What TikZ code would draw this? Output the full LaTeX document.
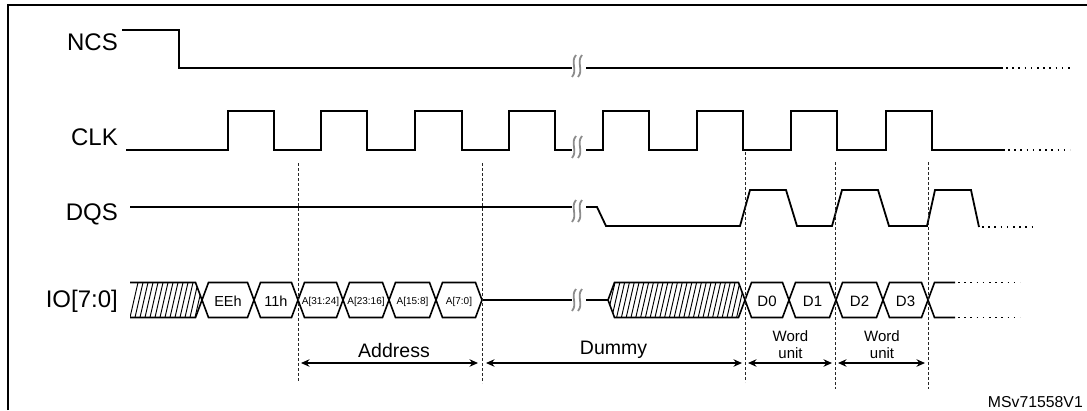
\documentclass[tikz,border=0pt]{standalone}
\usepackage{fontspec}
\setmainfont{Liberation Sans}
\usetikzlibrary{arrows.meta}
\newcommand{\brkmark}[2]{%
  \draw[brk] (#1+2,#2-11) .. controls (#1-4,#2-4) and (#1+4,#2+4) .. (#1-2,#2+11);
  \draw[brk] (#1+8,#2-11) .. controls (#1+2,#2-4) and (#1+10,#2+4) .. (#1+4,#2+11);}
\newcommand{\busseg}[2]{%
  \draw[bus] (#1,300) -- (#1+6.5,282.5) -- (#2-6.5,282.5) -- (#2,300) -- (#2-6.5,317.5) -- (#1+6.5,317.5) -- cycle;}
\begin{document}
\begin{tikzpicture}[x=1pt,y=-1pt,
  sig/.style={line width=1.8pt, line join=miter},
  bus/.style={line width=1.6pt, line join=miter},
  contd/.style={line width=1.8pt, dash pattern=on 1.6pt off 4.6pt},
  guide/.style={line width=0.9pt, dash pattern=on 3pt off 2pt, black!85},
  brk/.style={line width=1.8pt, black!45},
  hatch/.style={line width=0.95pt},
  dim/.style={line width=1.3pt, {Stealth[length=8.5pt,width=7.5pt]}-{Stealth[length=8.5pt,width=7.5pt]}},
  siglbl/.style={font=\fontsize{24}{28}\selectfont, anchor=base east, inner sep=0pt},
  buslbl/.style={font=\fontsize{14.5}{17}\selectfont, anchor=base, inner sep=0pt},
  addrlbl/.style={font=\fontsize{10}{12}\selectfont, anchor=base, inner sep=0pt},
  datalbl/.style={font=\fontsize{15}{18}\selectfont, anchor=base, inner sep=0pt},
  spanlbl/.style={font=\fontsize{19.5}{23}\selectfont, anchor=base, inner sep=0pt}
]
\fill[white] (0,0) rectangle (1087,410);
\useasboundingbox (0,0) rectangle (1087,410);

% frame
\draw[line width=1.8pt] (8,410) -- (8,5) -- (1087,5);

% labels
\node[siglbl] (ncs) at (118,50) {NCS};
\node[siglbl] (clk) at (118,145) {CLK};
\node[siglbl] (dqs) at (118,220) {DQS};
\node[siglbl] (io) at (118,307) {IO[7:0]};

% NCS
\draw[sig] (122,30) -- (179,30) -- (179,68) -- (572,68);
\draw[sig] (586,68) -- (1003,68);
\draw[contd] (1006,68) -- (1070,68);
\brkmark{574}{66}

% CLK
\draw[sig] (126,150) -| (228,111) -| (274,150) -| (321,111) -| (367,150) -| (415,111) -| (462,150) -| (509,111) -| (555,150) -- (572,150);
\draw[sig] (586,150) -| (603,111) -| (649,150) -| (697,111) -| (743,150) -| (791,111) -| (837,150) -| (886,111) -| (932,150) -- (1005,150);
\draw[contd] (1008,150) -- (1070,150);
\brkmark{574}{147}

% DQS
\draw[sig] (130,207) -- (572,207);
\draw[sig] (586,207) -- (597,207) -- (606,226) -- (740,226) -- (750,190) -- (786,190) -- (797,226) -- (832,226) -- (842,190) -- (878,190) -- (889,226) -- (927,226) -- (935,190) -- (971,190) -- (979,227);
\draw[contd] (982,227) -- (1032,227);
\brkmark{574}{211}

% IO bus: leading hatched region
\begin{scope}
  \clip (130,282.5) -- (195.5,282.5) -- (202,300) -- (195.5,317.5) -- (130,317.5) -- cycle;
  \foreach \x in {130,135,...,202} \draw[hatch] (\x,317.5) -- (\x+8,282.5);
\end{scope}
\draw[bus] (130,282.5) -- (195.5,282.5) -- (202,300) -- (195.5,317.5) -- (130,317.5);

\busseg{202}{254}
\busseg{254}{298}
\busseg{298}{343}
\busseg{343}{389}
\busseg{389}{436}
\busseg{436}{482}
\node[buslbl] (eeh) at (228,306) {EEh};
\node[buslbl] (b11h) at (276,306) {11h};
\node[addrlbl] (a3124) at (320.5,304) {A[31:24]};
\node[addrlbl] (a2316) at (366,304) {A[23:16]};
\node[addrlbl] (a158) at (412.5,304) {A[15:8]};
\node[addrlbl] (a70) at (459,304) {A[7:0]};

\draw[bus] (482,300) -- (572,300);
\draw[bus] (586,300) -- (608,300);
\brkmark{574}{300}

% dummy hatched region
\begin{scope}
  \clip (608,300) -- (614.5,282.5) -- (738.5,282.5) -- (745,300) -- (738.5,317.5) -- (614.5,317.5) -- cycle;
  \foreach \x in {607,611.8,...,746} \draw[hatch] (\x,317.5) -- (\x+8,282.5);
\end{scope}
\busseg{608}{745}

\busseg{745}{789}
\busseg{789}{836}
\busseg{836}{883}
\busseg{883}{928}
\node[datalbl] (d0) at (767,306.5) {D0};
\node[datalbl] (d1) at (812.5,306.5) {D1};
\node[datalbl] (d2) at (859.5,306.5) {D2};
\node[datalbl] (d3) at (905.5,306.5) {D3};
\draw[bus] (928,300) -- (934.5,282.5) -- (955,282.5);
\draw[bus] (928,300) -- (934.5,317.5) -- (955,317.5);
\draw[contd] (958,282.5) -- (1020,282.5);
\draw[contd] (958,317.5) -- (1020,317.5);

% guides
\coordinate (g1t) at (298,163); \coordinate (g1b) at (298,382);
\coordinate (g2t) at (482,163); \coordinate (g2b) at (482,383);
\coordinate (g3t) at (745,152); \coordinate (g3b) at (745,382);
\coordinate (g4t) at (835,162); \coordinate (g4b) at (835,389);
\coordinate (g5t) at (928,162); \coordinate (g5b) at (928,389);
\foreach \g in {g1,g2,g3,g4,g5} \draw[guide] (\g t) -- (\g b);

% spans
\coordinate (aL) at (301,363); \coordinate (aR) at (478,363);
\coordinate (dL) at (486,363); \coordinate (dR) at (742,363);
\coordinate (w1L) at (748,363); \coordinate (w1R) at (832,363);
\coordinate (w2L) at (838,363); \coordinate (w2R) at (925,363);
\draw[dim] (aL) -- (aR);
\draw[dim] (dL) -- (dR);
\draw[dim] (w1L) -- (w1R);
\draw[dim] (w2L) -- (w2R);
\node[spanlbl] (addr) at (394,357) {Address};
\node[spanlbl] (dummy) at (613.5,354) {Dummy};
\node[datalbl] (word1) at (790.5,341) {Word};
\node[datalbl] (unit1) at (790.5,358) {unit};
\node[datalbl] (word2) at (882,341) {Word};
\node[datalbl] (unit2) at (882,358) {unit};

\node[font=\fontsize{15.8}{19}\selectfont, anchor=base east, inner sep=0pt] (ref) at (1083,407) {MSv71558V1};
\end{tikzpicture}
\end{document}
